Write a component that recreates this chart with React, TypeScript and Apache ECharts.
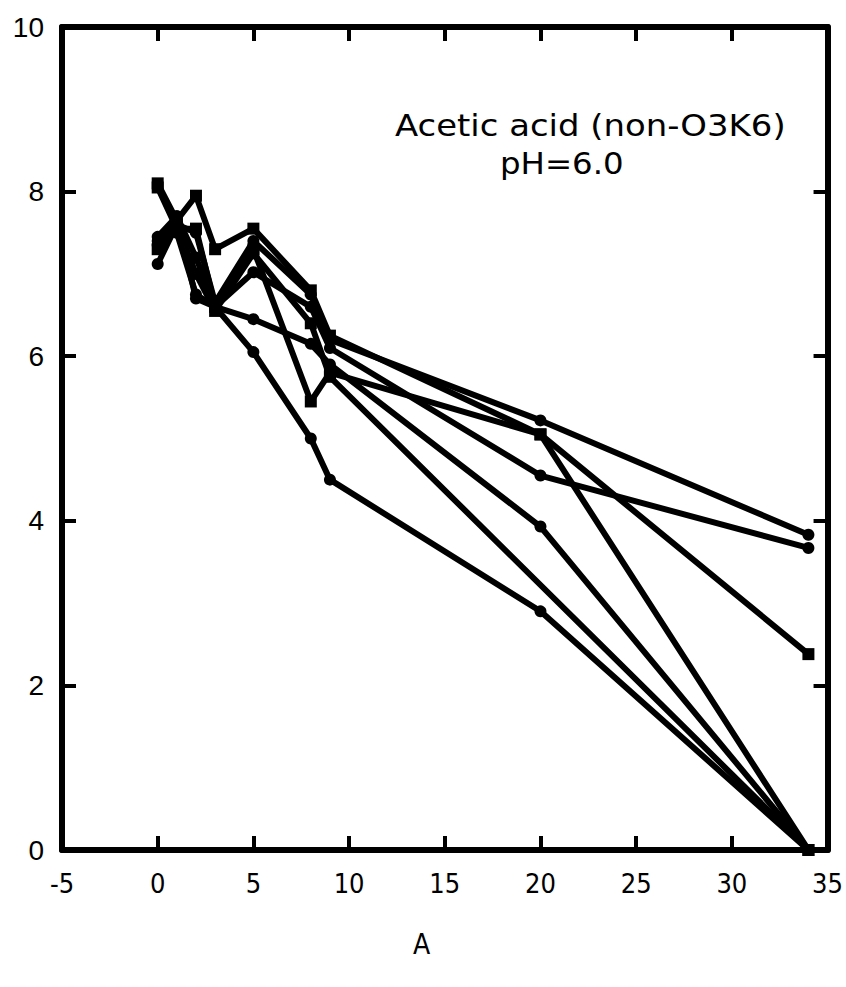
import React, { useEffect, useRef } from "react";
import * as echarts from "echarts";

const times = [0, 1, 2, 3, 5, 8, 9, 20, 34];
const s1 = [7.12, 7.6, 7.5, 6.65, 7.4, 6.75, 6.2, 5.22, 3.83];
const s2 = [7.35, 7.7, 7.2, 6.6, 7.02, 6.6, 6.1, 4.55, 3.67];
const s3 = [8.1, 7.65, 7.95, 7.3, 7.55, 6.8, 6.25, 5.05, 2.38];
const s4 = [8.05, 7.55, 7.55, 6.6, 7.3, 5.45, 5.8, 5.05, 0];
const s5 = [7.45, 7.7, 6.7, 6.6, 6.45, 6.15, 5.9, 3.93, 0];
const s6 = [7.3, 7.6, 7.0, 6.55, 7.25, 6.4, 5.75, null, 0];
const s7 = [7.4, 7.5, 6.75, 6.6, 6.05, 5.0, 4.5, 2.9, 0];
const seriesValues = [s1, s2, s3, s4, s5, s6, s7];
const symbols = ["circle", "circle", "rect", "rect", "circle", "rect", "circle"];
const xTicks = [-5, 0, 5, 10, 15, 20, 25, 30, 35];
const yTicks = [0, 2, 4, 6, 8, 10];
const titleLine1 = "Acetic acid (non-O3K6)";
const titleLine2 = "pH=6.0";
const xName = "A";

export default function App() {
  const ref = useRef<HTMLDivElement>(null);
  useEffect(() => {
    document.body.style.margin = "0";
    const chart = echarts.init(ref.current!, null, { renderer: "svg" });
    const narrow = "'Liberation Sans Narrow', 'DejaVu Sans Condensed', 'Liberation Sans', sans-serif";
    const axisCommon = {
      type: "value",
      axisLine: { show: true, onZero: false, lineStyle: { color: "#000", width: 6 } },
      axisTick: { show: true, inside: true, length: 14, lineStyle: { color: "#000", width: 4 } },
      splitLine: { show: false },
    };
    chart.setOption({
      animation: false,
      backgroundColor: "#fff",
      grid: { left: 62, right: 17, top: 27, bottom: 137 },
      xAxis: [
        {
          ...axisCommon,
          position: "bottom",
          min: xTicks[0],
          max: xTicks[xTicks.length - 1],
          interval: 5,
          axisLabel: { color: "#000", fontSize: 27, fontFamily: narrow, margin: 20 },
        },
        {
          ...axisCommon,
          position: "top",
          min: xTicks[0],
          max: xTicks[xTicks.length - 1],
          interval: 5,
          axisLabel: { show: false },
        },
      ],
      yAxis: [
        {
          ...axisCommon,
          position: "left",
          min: yTicks[0],
          max: yTicks[yTicks.length - 1],
          interval: 2,
          axisLabel: { color: "#000", fontSize: 28, fontFamily: "'Liberation Sans', Arial, sans-serif", margin: 18 },
        },
        {
          ...axisCommon,
          position: "right",
          min: yTicks[0],
          max: yTicks[yTicks.length - 1],
          interval: 2,
          axisLabel: { show: false },
        },
      ],
      graphic: [
        {
          type: "text",
          x: 395,
          y: 111,
          scaleX: 1.13,
          style: { text: titleLine1, fontSize: 30, fill: "#000", fontFamily: "'DejaVu Sans', sans-serif" },
        },
        {
          type: "text",
          x: 500,
          y: 148,
          scaleX: 1.08,
          style: { text: titleLine2, fontSize: 30, fill: "#000", fontFamily: "'DejaVu Sans', sans-serif" },
        },
        {
          type: "text",
          left: 413,
          top: 930,
          style: { text: xName, fontSize: 28, fill: "#000", fontFamily: narrow },
        },
      ],
      series: seriesValues.map((vals, i) => ({
        type: "line",
        data: vals.map((v, j) => [times[j], v]),
        connectNulls: true,
        symbol: symbols[i],
        symbolSize: 12,
        showAllSymbol: true,
        lineStyle: { color: "#000", width: 6 },
        itemStyle: { color: "#000" },
        z: 3,
      })),
    });
    return () => chart.dispose();
  }, []);
  return <div ref={ref} style={{ width: 846, height: 987 }} />;
}
